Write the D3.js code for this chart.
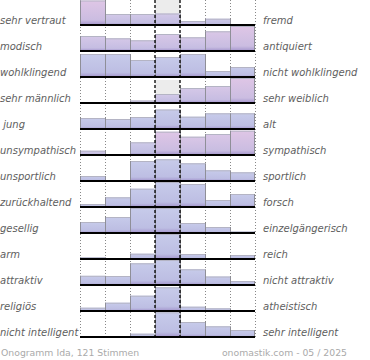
<!DOCTYPE html>
<html><head><meta charset="utf-8">
<script src="https://cdn.jsdelivr.net/npm/d3@7"></script>
<style>body{margin:0;background:#fff}svg{display:block}</style>
</head><body><script>
const leftLabels = ["sehr vertraut","modisch","wohlklingend","sehr männlich"," jung","unsympathisch","unsportlich","zurückhaltend","gesellig","arm","attraktiv","religiös","nicht intelligent"];
const rightLabels = ["fremd","antiquiert","nicht wohlklingend","sehr weiblich","alt","sympathisch","sportlich","forsch","einzelgängerisch","reich","nicht attraktiv","atheistisch","sehr intelligent"];
const columns = [1,2,3,4,5,6,7];
const values = [
 [24.5,11,11,11.5,4,6.3,1],
 [15,12.7,10.7,17,13.7,19.7,25],
 [23,23,17,20,23,6,10],
 [0,0,2.5,9,15,17,25],
 [11,10,12,19.5,12.3,15.7,15.7],
 [4.3,0,12.7,23.3,18.3,21,24.3],
 [5,1,20,21.7,17.7,10.7,8.7],
 [3,9.7,18.3,25,23,7,13],
 [11,16,25,25,10,6,1.5],
 [1.7,0,5.3,25,5,0,4],
 [9.2,9,21.7,25,15.7,8.5,4],
 [3.3,8.3,15.3,23.7,4.3,2.7,0.5],
 [0.5,0,3.3,24.7,15,10.7,7]
];
const footerLeft = "Onogramm Ida, 121 Stimmen";
const footerRight = "onomastik.com - 05 / 2025";

// style: pink tint per bar (0 = blue, 1 = pink)
const tint = [
 [1,.5,.5,.5,.45,.35,.5],
 [.6,.6,.55,.7,.6,.8,1],
 [.05,.05,.05,.05,.05,.05,.05],
 [0,0,.5,.5,.6,.7,1],
 [.05,.05,.05,.05,.05,.05,.05],
 [.5,0,.3,1,.8,.8,1],
 [.05,.05,.05,.05,.05,.05,.05],
 [.05,.05,.05,.05,.05,.05,.05],
 [.05,.05,.05,.05,.05,.05,.05],
 [.05,.05,.05,.05,.05,.05,.05],
 [.05,.05,.05,.05,.05,.05,.05],
 [.05,.05,.05,.05,.05,.05,.05],
 [.05,.05,.05,.05,.05,.05,.05]
];
const greyRows = [0,3];

const W = 370, H = 360;
const svg = d3.select("body").append("svg").attr("width", W).attr("height", H);
const defs = svg.append("defs");

const x = d3.scaleBand().domain(columns).range([80,255]).paddingInner(0).paddingOuter(0);
const rowY = d3.scaleLinear().domain([0, leftLabels.length-1]).range([25, 337]);
const h = d3.scaleLinear().domain([0,25]).range([0,25]);

const topBlue = d3.rgb("#c6cbea"), topPink = d3.rgb("#dfc6e6");
const midBlue = d3.rgb("#bcbee3"), midPink = d3.rgb("#cbbde1");

// grey center background
greyRows.forEach(r => {
  svg.append("rect").attr("x", x(4)).attr("width", x.bandwidth())
    .attr("y", rowY(r) - 25 + (r === 0 ? 0 : 2)).attr("height", r === 0 ? 25 : 23)
    .attr("fill", "#ececec");
});

// dotted vertical guides
const allX = columns.map(c => x(c)).concat([x(7) + x.bandwidth()]);
allX.forEach((xx, i) => {
  if (i === 3 || i === 4) return;
  svg.append("line").attr("x1", xx+0.5).attr("x2", xx+0.5).attr("y1", 0).attr("y2", 339)
    .attr("stroke", "#888").attr("stroke-width", 1).attr("stroke-dasharray", "1,2");
});

// bars
values.forEach((row, r) => {
  const yb = rowY(r);
  const g = svg.append("g");
  row.forEach((v, i) => {
    if (v <= 0) return;
    const t = tint[r][i];
    const id = `g${r}_${i}`;
    const grad = defs.append("linearGradient").attr("id", id).attr("x1",0).attr("y1",0).attr("x2",0).attr("y2",1);
    grad.append("stop").attr("offset", 0).attr("stop-color", d3.interpolateRgb(topBlue, topPink)(t));
    grad.append("stop").attr("offset", 0.8).attr("stop-color", d3.interpolateRgb(midBlue, midPink)(t));
    grad.append("stop").attr("offset", 1).attr("stop-color", "#a394cc");
    g.append("rect").attr("x", x(columns[i])).attr("width", x.bandwidth())
      .attr("y", yb - h(v)).attr("height", h(v)).attr("fill", `url(#${id})`);
    g.append("line").attr("x1", x(columns[i])).attr("x2", x(columns[i]) + x.bandwidth())
      .attr("y1", yb - h(v) + 0.5).attr("y2", yb - h(v) + 0.5)
      .attr("stroke", "#b4b4c4").attr("stroke-width", 1);
  });
  for (let k = 0; k <= row.length; k++) {
    const a = k > 0 ? row[k-1] : 0, b = k < row.length ? row[k] : 0;
    const m = Math.max(a, b);
    if (m <= 0) continue;
    const xx = allX[k] + (k === row.length ? -0.5 : 0.5);
    g.append("line").attr("x1", xx).attr("x2", xx).attr("y1", yb).attr("y2", yb - h(m))
      .attr("stroke", "#8f8f98").attr("stroke-width", 1);
  }
  svg.append("line").attr("x1", 80).attr("x2", 255).attr("y1", yb).attr("y2", yb)
    .attr("stroke", "#000").attr("stroke-width", 2);
});

// dashed center borders
[allX[3], allX[4]].forEach(xx => {
  svg.append("line").attr("x1", xx).attr("x2", xx).attr("y1", 0).attr("y2", 339)
    .attr("stroke", "#000").attr("stroke-width", 1.3).attr("stroke-dasharray", "3,2");
});

// labels
const labelStyle = sel => sel.attr("font-family", "DejaVu Sans, sans-serif")
  .attr("font-size", 10).attr("font-style", "italic").attr("fill", "#5e5e5e")
  .style("white-space", "pre");
svg.append("g").selectAll("text").data(leftLabels).join("text")
  .attr("x", 0).attr("y", (d, i) => rowY(i) - 1.5).text(d => d).call(labelStyle);
svg.append("g").selectAll("text").data(rightLabels).join("text")
  .attr("x", 263).attr("y", (d, i) => rowY(i) - 1.5).text(d => d).call(labelStyle);

// footer
svg.append("text").attr("x", 1).attr("y", 356).text(footerLeft)
  .attr("font-family", "DejaVu Sans, sans-serif").attr("font-size", 9.3).attr("fill", "#aaa");
svg.append("text").attr("x", 347).attr("y", 356).attr("text-anchor", "end").text(footerRight)
  .attr("font-family", "DejaVu Sans, sans-serif").attr("font-size", 9.3).attr("fill", "#aaa");
</script></body></html>
